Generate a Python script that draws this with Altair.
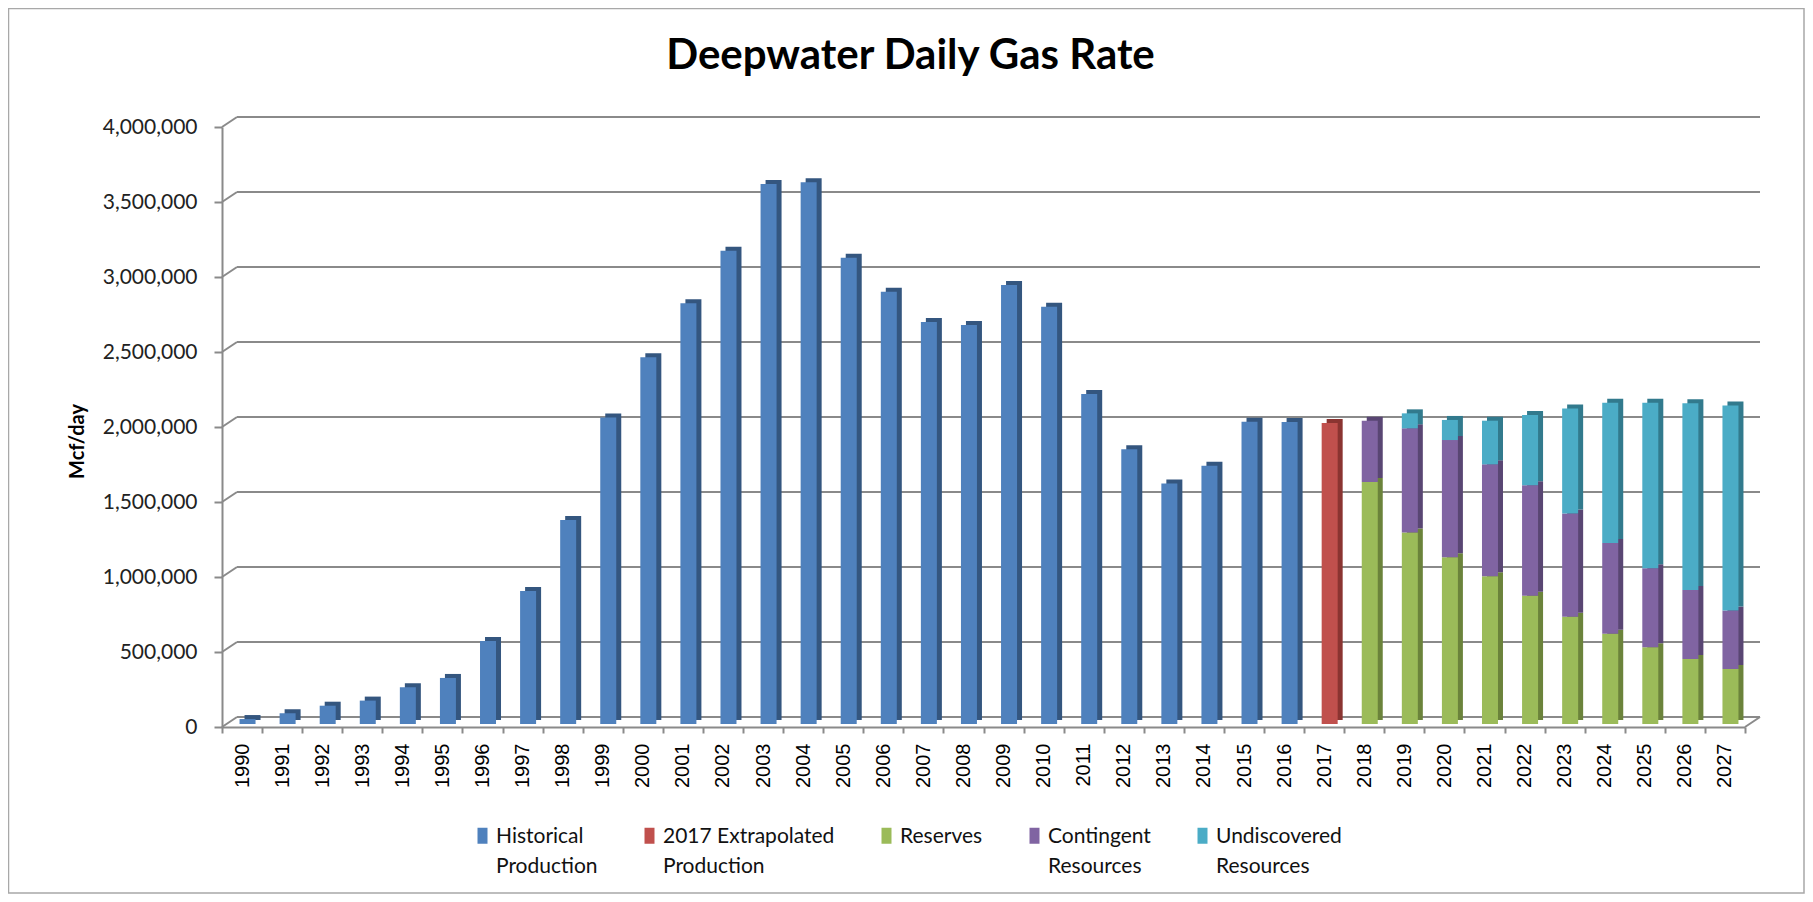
import altair as alt
import pandas as pd

# ---------------- data ----------------
years = [str(y) for y in range(1990, 2028)]

hist_years = [str(y) for y in range(1990, 2017)]
historical = [33000, 71000, 122000, 156000, 245000, 307000, 553000, 887000,
              1360000, 2043000, 2445000, 2805000, 3155000, 3600000, 3611000,
              3109000, 2882000, 2680000, 2660000, 2927000, 2782000, 2200000,
              1831000, 1604000, 1722000, 2015000, 2013000]

extrap_years = ["2017"]
extrapolated = [2007000]

fc_years = [str(y) for y in range(2018, 2028)]
reserves = [1613000, 1276000, 1111000, 985000, 855000, 715000, 602000, 511000, 433000, 366000]
contingent = [409000, 695000, 782000, 746000, 736000, 689000, 605000, 527000, 460000, 390000]
undiscovered = [0, 100000, 134000, 291000, 469000, 700000, 935000, 1104000, 1245000, 1368000]

series_names = ["Historical Production", "2017 Extrapolated Production",
                "Reserves", "Contingent Resources", "Undiscovered Resources"]
y_ticks = [0, 500000, 1000000, 1500000, 2000000, 2500000, 3000000, 3500000, 4000000]

face_colors = ["#4F81BD", "#C0504D", "#9BBB59", "#8064A2", "#4BACC6"]
side_colors = ["#34567F", "#8A3431", "#6B833B", "#594673", "#327A8D"]

rows = []
for y, v in zip(hist_years, historical):
    rows.append({"year": y, "series": series_names[0], "value": v, "ord": 0})
for y, v in zip(extrap_years, extrapolated):
    rows.append({"year": y, "series": series_names[1], "value": v, "ord": 1})
for y, r, c, u in zip(fc_years, reserves, contingent, undiscovered):
    rows.append({"year": y, "series": series_names[2], "value": r, "ord": 2})
    rows.append({"year": y, "series": series_names[3], "value": c, "ord": 3})
    rows.append({"year": y, "series": series_names[4], "value": u, "ord": 4})
df = pd.DataFrame(rows)
ticks_df = pd.DataFrame({"tick": y_ticks})
one_df = pd.DataFrame({"tick": [0]})

# ---------------- layout ----------------
W, H = 1523, 600
PAD = {"left": 214, "top": 119, "right": 60, "bottom": 167}
GRID = "#8a8a8a"
DEPTH_X, DEPTH_Y = 15, -10

yscale = alt.Scale(domain=[0, 4000000], nice=False, zero=True)
xscale = alt.Scale(domain=years, paddingInner=0, paddingOuter=0)

yaxis = alt.Axis(values=y_ticks, format=",d", grid=False,
                 domainColor=GRID, domainWidth=2, tickColor=GRID, tickWidth=2,
                 tickSize=8, labelPadding=17, labelFont="Lato", labelFontSize=21,
                 labelColor="#222222", titleFont="Lato", titleFontSize=20,
                 titleFontWeight="bold", titleColor="black", titleX=-135, titleY=314)
xaxis = alt.Axis(labelAngle=270, labelFont="Liberation Sans", labelFontSize=20,
                 labelColor="black", labelPadding=10, tickBand="extent",
                 tickSize=6, tickColor=GRID, tickWidth=2, domainColor=GRID,
                 domainWidth=2, grid=False, title="", labelOverlap=False)

def yenc(field, **kw):
    return alt.Y(field, scale=yscale, axis=yaxis, title="Mcf/day", **kw)

frame = alt.Chart(one_df).mark_rect(filled=False, stroke="#a8a8a8", strokeWidth=1.5).encode(
    x=alt.value(-213.5), x2=alt.value(W + 59), y=alt.value(-118.5), y2=alt.value(H + 166)
)

grid = alt.Chart(ticks_df).mark_rule(color=GRID, strokeWidth=2, yOffset=DEPTH_Y).encode(
    y=yenc("tick:Q"), x=alt.value(DEPTH_X), x2=alt.value(W + DEPTH_X)
)
connectors = alt.Chart(ticks_df).mark_rule(color=GRID, strokeWidth=2, y2Offset=DEPTH_Y).encode(
    y=yenc("tick:Q"), y2=alt.Y2("tick:Q"), x=alt.value(0), x2=alt.value(DEPTH_X)
)
floor_edge = alt.Chart(one_df).mark_rule(color=GRID, strokeWidth=2, y2Offset=DEPTH_Y).encode(
    y=yenc("tick:Q"), y2=alt.Y2("tick:Q"), x=alt.value(W), x2=alt.value(W + DEPTH_X)
)

legend = alt.Legend(
    orient="none", legendX=253, legendY=688, direction="horizontal", title="",
    labelFont="Lato", labelFontSize=21, labelColor="#111111", labelLimit=400,
    labelExpr=("datum.label == '2017 Extrapolated Production' ? ['2017 Extrapolated', 'Production'] : "
               "datum.label == 'Reserves' ? ['Reserves', ' '] : split(datum.label, ' ')"),
    symbolType="M-0.8,0.2H0.2V1.8H-0.8Z", symbolSize=400, symbolStrokeWidth=0,
    labelOffset=0, columnPadding=44, padding=0, labelBaseline="top",
)

back = alt.Chart(df).mark_bar(size=16, xOffset=10.5, yOffset=-7).encode(
    x=alt.X("year:N", scale=xscale, axis=xaxis),
    y=yenc("value:Q", stack="zero"),
    color=alt.Color("series:N", scale=alt.Scale(domain=series_names, range=side_colors), legend=None),
    order=alt.Order("ord:Q"),
)
front = alt.Chart(df).mark_bar(size=16, xOffset=5.5, yOffset=-3).encode(
    x=alt.X("year:N", scale=xscale, axis=xaxis),
    y=yenc("value:Q", stack="zero"),
    color=alt.Color("series:N", scale=alt.Scale(domain=series_names, range=face_colors), legend=legend),
    order=alt.Order("ord:Q"),
)

chart = alt.layer(frame, grid, connectors, floor_edge, back, front).properties(
    width=W, height=H,
    autosize=alt.AutoSizeParams(type="none"),
    padding=PAD,
    background="white",
    title=alt.TitleParams(text="Deepwater Daily Gas Rate", font="Lato", fontSize=42,
                          fontWeight="bold", color="black", anchor="middle",
                          baseline="alphabetic", frame="group", dx=-73, offset=-103),
).resolve_scale(color="independent").configure(
    style={"guide-label": {"lineHeight": 30}}
).configure_view(strokeWidth=0)

chart.save("out.html", embed_options={"renderer": "svg", "actions": False})
